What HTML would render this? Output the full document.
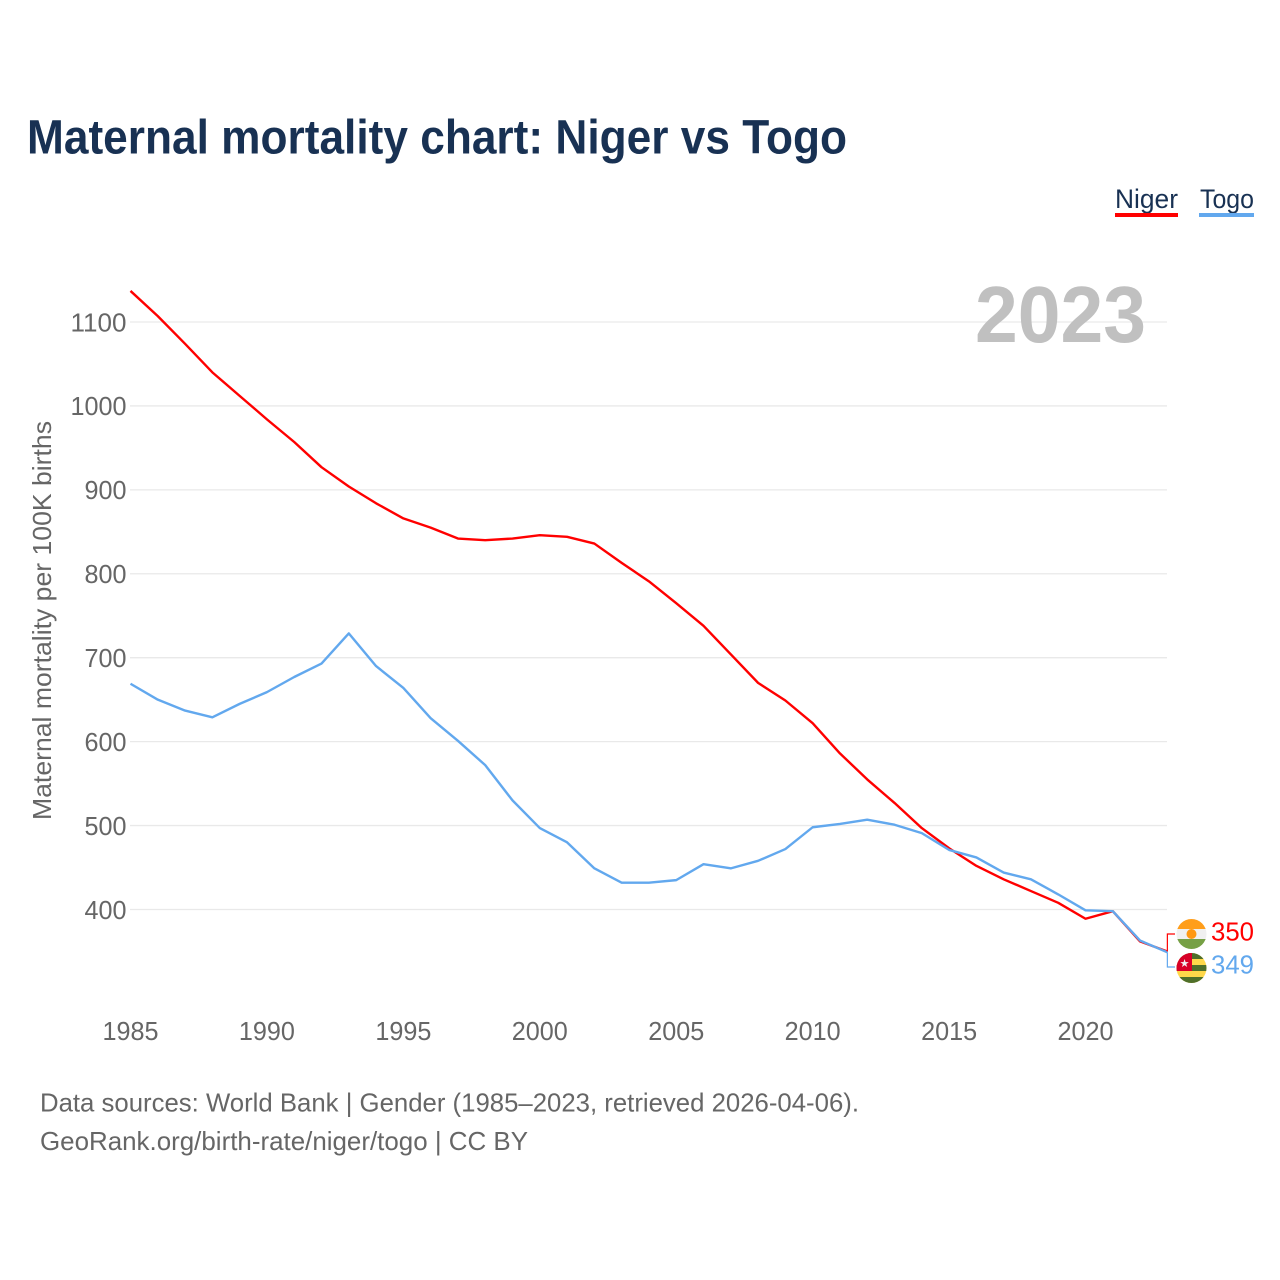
<!DOCTYPE html>
<html lang="en">
<head>
<meta charset="utf-8">
<title>Maternal mortality chart: Niger vs Togo</title>
<style>
html,body{margin:0;padding:0;background:#fff;width:1280px;height:1280px;overflow:hidden}
svg{display:block}
text{font-family:"Liberation Sans",sans-serif}
</style>
</head>
<body>
<svg id="chart" xmlns="http://www.w3.org/2000/svg" width="1280" height="1280" viewBox="0 0 1280 1280">
  <rect x="0" y="0" width="1280" height="1280" fill="#ffffff"/>
  <text x="27" y="153.5" font-size="48" font-weight="700" fill="#183153" textLength="820" lengthAdjust="spacingAndGlyphs">Maternal mortality chart: Niger vs Togo</text>

  <g>
    <g>
      <text x="1115" y="208" font-size="27" fill="#183153" textLength="63" lengthAdjust="spacingAndGlyphs">Niger</text>
      <rect x="1115" y="213" width="63" height="4" fill="#ff0000"/>
    </g>
    <g>
      <text x="1200" y="208" font-size="27" fill="#183153" textLength="54" lengthAdjust="spacingAndGlyphs">Togo</text>
      <rect x="1199" y="213" width="55" height="4" fill="#62a8ee"/>
    </g>
  </g>

  <g id="grid"></g>
  <g id="yticks"></g>
  <g id="xticks"></g>

  <text transform="translate(51,820) rotate(-90)" x="0" y="0" font-size="26" fill="#666666" textLength="399" lengthAdjust="spacingAndGlyphs">Maternal mortality per 100K births</text>

  <text x="975" y="342" font-size="80" font-weight="700" fill="#c0c0c0" textLength="171" lengthAdjust="spacingAndGlyphs">2023</text>

  <g id="series"></g>

  <g>
    <clipPath id="clipN"><circle cx="1191.5" cy="934" r="15"/></clipPath>
    <g clip-path="url(#clipN)">
      <rect x="1176" y="919" width="31" height="10" fill="#ff9e1b"/>
      <rect x="1176" y="929" width="31" height="10" fill="#f0f0f0"/>
      <rect x="1176" y="939" width="31" height="10" fill="#76a045"/>
      <circle cx="1191.5" cy="934" r="5" fill="#ff9811"/>
    </g>
  </g>
  <g>
    <clipPath id="clipT"><circle cx="1191.5" cy="968" r="15"/></clipPath>
    <g clip-path="url(#clipT)">
      <rect x="1176" y="953" width="31" height="31" fill="#ffd84a"/>
      <rect x="1176" y="953" width="31" height="6" fill="#4f6f2a"/>
      <rect x="1176" y="965" width="31" height="6" fill="#4f6f2a"/>
      <rect x="1176" y="977" width="31" height="7" fill="#4f6f2a"/>
      <rect x="1176" y="953" width="16" height="18" fill="#d80027"/>
      <text x="1184.5" y="967" font-size="11" text-anchor="middle" fill="#f0f0f0" style="font-family:'DejaVu Sans',sans-serif">★</text>
    </g>
  </g>

  <g id="endlabels"></g>

  <text x="40" y="1111.5" font-size="26" fill="#666666" textLength="819" lengthAdjust="spacingAndGlyphs">Data sources: World Bank | Gender (1985–2023, retrieved 2026-04-06).</text>
  <text x="40" y="1150" font-size="26" fill="#666666" textLength="488" lengthAdjust="spacingAndGlyphs">GeoRank.org/birth-rate/niger/togo | CC BY</text>
</svg>
<script>
const years = [1985,1986,1987,1988,1989,1990,1991,1992,1993,1994,1995,1996,1997,1998,1999,2000,2001,2002,2003,2004,2005,2006,2007,2008,2009,2010,2011,2012,2013,2014,2015,2016,2017,2018,2019,2020,2021,2022,2023];
const nigerValues = [1137,1107,1074,1040,1012,984,957,927,904,884,866,855,842,840,842,846,844,836,813,791,765,738,704,670,649,622,586,555,527,497,473,452,436,422,408,389,398,362,350];
const togoValues = [669,650,637,629,645,659,677,693,729,690,664,628,601,572,530,497,480,449,432,432,435,454,449,458,472,498,502,507,501,491,471,462,444,436,418,399,398,363,349];
const yTickValues = [400,500,600,700,800,900,1000,1100];
const xTickValues = [1985,1990,1995,2000,2005,2010,2015,2020];

const NS = 'http://www.w3.org/2000/svg';
function xScale(year){ return 130.5 + (year - 1985) * 27.286; }
function yScale(v){ return 909.5 - (v - 400) * 0.8393; }
function make(tag, attrs, parent){
  const el = document.createElementNS(NS, tag);
  for (const k in attrs) el.setAttribute(k, attrs[k]);
  parent.appendChild(el);
  return el;
}

const grid = document.getElementById('grid');
const yticks = document.getElementById('yticks');
yTickValues.forEach(function(v){
  const line = make('line', {x1:130, x2:1167, y1:yScale(v), y2:yScale(v), stroke:'#e9e9e9', 'stroke-width':1.3}, grid);
  
  
  const text = String(v);
  const label = make('text', {x:126.5, y:yScale(v) + 9.3, 'font-size':26, fill:'#666666', 'text-anchor':'end', textLength:text.length * 14, lengthAdjust:'spacingAndGlyphs'}, yticks);
  
  
  label.textContent = text;
});

const xticks = document.getElementById('xticks');
xTickValues.forEach(function(y){
  const label = make('text', {x:xScale(y), y:1040, 'font-size':26, fill:'#666666', 'text-anchor':'middle', textLength:56, lengthAdjust:'spacingAndGlyphs'}, xticks);
  
  
  label.textContent = String(y);
});

function linePoints(values){
  return values.map(function(v, i){ return xScale(years[i]).toFixed(2) + ',' + yScale(v).toFixed(2); }).join(' ');
}
const series = document.getElementById('series');
const nigerLine = make('polyline', {points:linePoints(nigerValues), fill:'none', stroke:'#ff0000', 'stroke-width':2.4, 'stroke-linejoin':'round'}, series);


const togoLine = make('polyline', {points:linePoints(togoValues), fill:'none', stroke:'#62a8ee', 'stroke-width':2.4, 'stroke-linejoin':'round'}, series);



const lastX = xScale(years[years.length - 1]);
const nigerConnector = make('polyline', {points:lastX + ',' + yScale(nigerValues[nigerValues.length - 1]) + ' ' + lastX + ',934 1175,934', fill:'none', stroke:'#ff0000', 'stroke-width':1.2}, series);


const togoConnector = make('polyline', {points:lastX + ',' + yScale(togoValues[togoValues.length - 1]) + ' ' + lastX + ',967 1175,967', fill:'none', stroke:'#62a8ee', 'stroke-width':1.2}, series);



const endlabels = document.getElementById('endlabels');
const nigerEnd = make('text', {x:1211, y:940.5, 'font-size':26, fill:'#ff0000', textLength:43, lengthAdjust:'spacingAndGlyphs'}, endlabels);


nigerEnd.textContent = String(nigerValues[nigerValues.length - 1]);
const togoEnd = make('text', {x:1211, y:973.5, 'font-size':26, fill:'#62a8ee', textLength:43, lengthAdjust:'spacingAndGlyphs'}, endlabels);


togoEnd.textContent = String(togoValues[togoValues.length - 1]);
</script>
</body>
</html>
